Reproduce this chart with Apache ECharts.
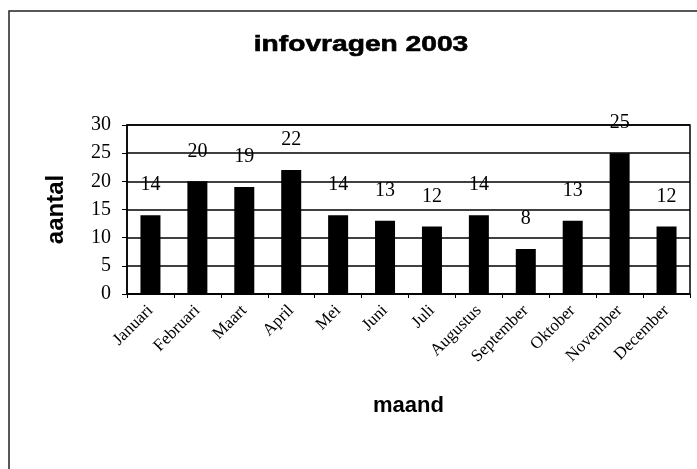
<!DOCTYPE html>
<html>
<head>
<meta charset="utf-8">
<script src="https://cdn.jsdelivr.net/npm/echarts@6/dist/echarts.min.js"></script>
<style>html,body{margin:0;padding:0;background:#fff;}#c{width:697px;height:469px;}</style>
</head>
<body>
<div id="c"></div>
<script>
var categories = ['Januari','Februari','Maart','April','Mei','Juni','Juli','Augustus','September','Oktober','November','December'];
var values = [14, 20, 19, 22, 14, 13, 12, 14, 8, 13, 25, 12];
var yTicks = [0, 5, 10, 15, 20, 25, 30];
var titleText = 'infovragen 2003';
var xName = 'maand';
var yName = 'aantal';

var chart = echarts.init(document.getElementById('c'), null, {renderer: 'canvas'});
chart.setOption({
  animation: false,
  backgroundColor: '#fff',
  graphic: [
    {type: 'rect', shape: {x: 9, y: 11, width: 720, height: 500}, style: {fill: 'none', stroke: '#222', lineWidth: 1.5}, silent: true},
    {type: 'text', x: 361, y: 45, scaleX: 1.28, style: {text: titleText, font: 'bold 22px "Liberation Sans", Arial, sans-serif', fill: '#000', textAlign: 'center', textVerticalAlign: 'middle', stroke: '#000', lineWidth: 0.6}}
  ],
  grid: {left: 127, right: 7, top: 125, bottom: 175, show: true, borderColor: '#000', borderWidth: 1.5, backgroundColor: 'transparent'},
  xAxis: {
    type: 'category',
    data: categories,
    name: xName,
    nameLocation: 'middle',
    nameGap: 101,
    nameTextStyle: {fontFamily: '"Liberation Sans", Arial, sans-serif', fontWeight: 'bold', fontSize: 22, color: '#000'},
    axisLine: {show: true, lineStyle: {color: '#000', width: 1.5}},
    axisTick: {show: true, alignWithLabel: false, length: 4, lineStyle: {color: '#000'}},
    axisLabel: {rotate: 45, interval: 0, fontFamily: '"Liberation Serif", "Times New Roman", serif', fontSize: 17, color: '#000', margin: 14}
  },
  yAxis: {
    type: 'value',
    min: 0, max: 30, interval: 5,
    name: yName,
    nameLocation: 'middle',
    nameGap: 59,
    nameRotate: 90,
    nameTextStyle: {fontFamily: '"Liberation Sans", Arial, sans-serif', fontWeight: 'bold', fontSize: 24, color: '#000'},
    axisLine: {show: true, lineStyle: {color: '#000', width: 1.5}},
    axisTick: {show: true, length: 5, lineStyle: {color: '#000'}},
    axisLabel: {fontFamily: '"Liberation Serif", "Times New Roman", serif', fontSize: 20, color: '#000', margin: 16,
      formatter: function (v) { return yTicks.indexOf(v) >= 0 ? String(v) : ''; }},
    splitLine: {show: true, lineStyle: {color: '#000', width: 1.5}}
  },
  series: [{
    type: 'bar',
    data: values,
    barWidth: 20,
    itemStyle: {color: '#000'},
    label: {show: true, position: 'top', distance: 20, fontFamily: '"Liberation Serif", "Times New Roman", serif', fontSize: 20, color: '#000'}
  }]
});
</script>
</body>
</html>
